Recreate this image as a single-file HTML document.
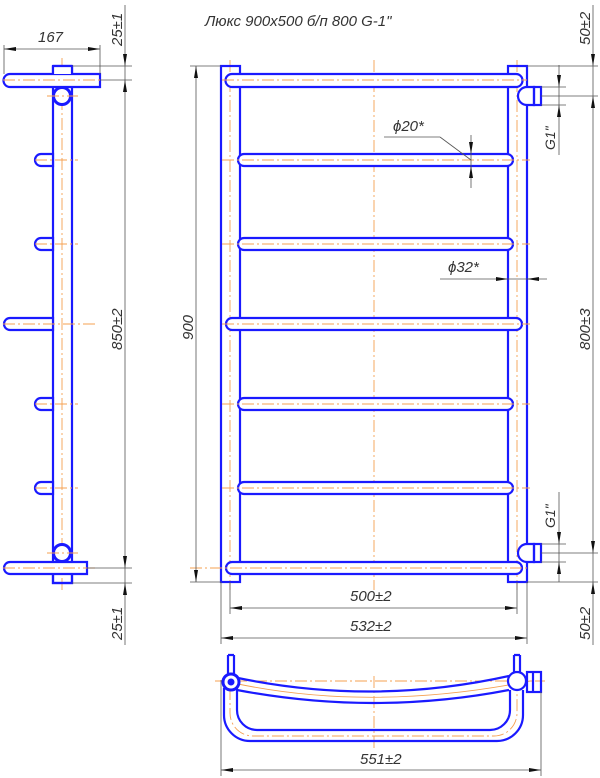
<!DOCTYPE html>
<html><head><meta charset="utf-8"><style>
html,body{margin:0;padding:0;background:#fff;width:600px;height:778px;overflow:hidden}
svg{display:block}
text{font-family:"Liberation Sans","DejaVu Sans",sans-serif;font-style:italic;fill:#333;font-size:15px}
.b{fill:none;stroke:#1a1aff;stroke-width:2.2}
.bw{fill:#fff;stroke:#1a1aff;stroke-width:2.2}
.c{stroke:#f5a050;stroke-width:0.9;stroke-dasharray:12,3,2,3;fill:none}
.d{stroke:#555;stroke-width:0.8;fill:none}
.a{fill:#111}
</style></head><body>
<svg width="600" height="778" viewBox="0 0 600 778">
<!-- ========== SIDE VIEW ========== -->
<line class="c" x1="62" y1="58" x2="62" y2="592"/>
<rect class="b" x="53" y="66" width="19" height="517"/>
<!-- top bar -->
<path class="bw" d="M10 74 H100 V87 H10 A6.5 6.5 0 0 1 10 74 Z"/>
<rect class="bw" x="53" y="66" width="19" height="8" style="stroke:none"/>
<path class="b" d="M53 66 V74 M72 66 V74 M53 66 H72"/>
<line class="c" x1="3" y1="80" x2="100" y2="80"/>
<circle cx="62" cy="96" r="8.5" fill="#fff" stroke="#1a1aff" stroke-width="3"/>
<line class="c" x1="47" y1="96" x2="78" y2="96"/>
<!-- stubs -->
<g>
<path class="bw" d="M53 154 H41 A6 6 0 0 0 41 166 H53 Z"/>
<path class="bw" d="M53 238 H41 A6 6 0 0 0 41 250 H53 Z"/>
<path class="bw" d="M53 318 H10 A6 6 0 0 0 10 330 H53 Z"/>
<path class="bw" d="M53 398 H41 A6 6 0 0 0 41 410 H53 Z"/>
<path class="bw" d="M53 482 H41 A6 6 0 0 0 41 494 H53 Z"/>
</g>
<line class="c" x1="35" y1="160" x2="78" y2="160"/>
<line class="c" x1="35" y1="244" x2="78" y2="244"/>
<line class="c" x1="3" y1="324" x2="96" y2="324"/>
<line class="c" x1="35" y1="404" x2="78" y2="404"/>
<line class="c" x1="35" y1="488" x2="78" y2="488"/>
<!-- bottom -->
<path class="bw" d="M10 562 H87 V574 H10 A6 6 0 0 1 10 562 Z"/>
<path class="b" d="M53 574 V583 H72 V574"/>
<line class="c" x1="3" y1="568" x2="96" y2="568"/>
<circle cx="62" cy="553" r="8.5" fill="#fff" stroke="#1a1aff" stroke-width="3"/>
<line class="c" x1="47" y1="553" x2="78" y2="553"/>
<!-- side dims -->
<line class="d" x1="4" y1="45" x2="4" y2="74"/>
<line class="d" x1="100" y1="45" x2="100" y2="74"/>
<line class="d" x1="4" y1="49" x2="100" y2="49"/>
<polygon class="a" points="4,49 16,47 16,51"/><polygon class="a" points="100,49 88,47 88,51"/>
<text x="38" y="42">167</text>
<line class="d" x1="72" y1="66" x2="132" y2="66"/>
<line class="d" x1="100" y1="80" x2="132" y2="80"/>
<line class="d" x1="125" y1="5" x2="125" y2="583"/>
<polygon class="a" points="125,66 123,54 127,54"/><polygon class="a" points="125,80 123,92 127,92"/>
<text transform="translate(122,46) rotate(-90)">25±1</text>
<text transform="translate(122,350) rotate(-90)">850±2</text>
<line class="d" x1="87" y1="568" x2="132" y2="568"/>
<line class="d" x1="72" y1="583" x2="132" y2="583"/>
<line class="d" x1="125" y1="583" x2="125" y2="645"/>
<polygon class="a" points="125,568 123,556 127,556"/><polygon class="a" points="125,583 123,595 127,595"/>
<text transform="translate(122,640) rotate(-90)">25±1</text>

<!-- ========== FRONT VIEW ========== -->
<text x="205" y="26">Люкс 900х500 б/п 800 G-1"</text>
<line class="c" x1="230" y1="60" x2="230" y2="590"/>
<line class="c" x1="517" y1="60" x2="517" y2="590"/>
<line class="c" x1="374" y1="60" x2="374" y2="590"/>
<rect class="b" x="221" y="66" width="19" height="516"/>
<rect class="b" x="508" y="66" width="19" height="516"/>
<!-- bars -->
<path class="bw" d="M232 74 H516 A6.5 6.5 0 0 1 516 87 H232 A6.5 6.5 0 0 1 232 74 Z"/>
<path class="bw" d="M244 154 H507 A6 6 0 0 1 507 166 H244 A6 6 0 0 1 244 154 Z"/>
<path class="bw" d="M244 238 H507 A6 6 0 0 1 507 250 H244 A6 6 0 0 1 244 238 Z"/>
<path class="bw" d="M232 318 H516 A6 6 0 0 1 516 330 H232 A6 6 0 0 1 232 318 Z"/>
<path class="bw" d="M244 398 H507 A6 6 0 0 1 507 410 H244 A6 6 0 0 1 244 398 Z"/>
<path class="bw" d="M244 482 H507 A6 6 0 0 1 507 494 H244 A6 6 0 0 1 244 482 Z"/>
<path class="bw" d="M232 562 H516 A6 6 0 0 1 516 574 H232 A6 6 0 0 1 232 562 Z"/>
<line class="c" x1="222" y1="80" x2="527" y2="80"/>
<line class="c" x1="222" y1="160" x2="530" y2="160"/>
<line class="c" x1="222" y1="244" x2="530" y2="244"/>
<line class="c" x1="222" y1="324" x2="530" y2="324"/>
<line class="c" x1="222" y1="404" x2="530" y2="404"/>
<line class="c" x1="222" y1="488" x2="530" y2="488"/>
<line class="c" x1="190" y1="568" x2="530" y2="568"/>
<!-- connectors -->
<path class="bw" d="M534 87 H527 A9 9 0 0 0 527 105 H534 Z"/>
<rect class="b" x="534" y="87" width="7" height="18"/>
<path class="bw" d="M534 544 H527 A9 9 0 0 0 527 562 H534 Z"/>
<rect class="b" x="534" y="544" width="7" height="18"/>
<!-- front dims -->
<line class="d" x1="190" y1="66" x2="221" y2="66"/>
<line class="d" x1="190" y1="582" x2="221" y2="582"/>
<line class="d" x1="196" y1="66" x2="196" y2="582"/>
<polygon class="a" points="196,66 194,78 198,78"/><polygon class="a" points="196,582 194,570 198,570"/>
<text transform="translate(193,340) rotate(-90)">900</text>
<!-- right -->
<line class="d" x1="527" y1="66" x2="598" y2="66"/>
<line class="d" x1="541" y1="96" x2="598" y2="96"/>
<line class="d" x1="593" y1="5" x2="593" y2="582"/>
<polygon class="a" points="593,66 591,54 595,54"/><polygon class="a" points="593,96 591,108 595,108"/>
<text transform="translate(590,45) rotate(-90)">50±2</text>
<text transform="translate(590,350) rotate(-90)">800±3</text>
<line class="d" x1="541" y1="87" x2="566" y2="87"/>
<line class="d" x1="541" y1="105" x2="566" y2="105"/>
<line class="d" x1="559" y1="65" x2="559" y2="155"/>
<polygon class="a" points="559,87 557,75 561,75"/><polygon class="a" points="559,105 557,117 561,117"/>
<text transform="translate(555,150) rotate(-90)" style="font-size:14px">G1"</text>
<line class="d" x1="541" y1="544" x2="566" y2="544"/>
<line class="d" x1="541" y1="562" x2="566" y2="562"/>
<line class="d" x1="559" y1="492" x2="559" y2="582"/>
<polygon class="a" points="559,544 557,532 561,532"/><polygon class="a" points="559,562 557,574 561,574"/>
<text transform="translate(555,528) rotate(-90)" style="font-size:14px">G1"</text>
<line class="d" x1="527" y1="582" x2="598" y2="582"/>
<line class="d" x1="541" y1="553" x2="598" y2="553"/>
<line class="d" x1="593" y1="582" x2="593" y2="645"/>
<polygon class="a" points="593,553 591,541 595,541"/><polygon class="a" points="593,582 591,594 595,594"/>
<text transform="translate(590,640) rotate(-90)">50±2</text>
<!-- phi20 -->
<line class="d" x1="384" y1="137" x2="440" y2="137"/>
<line class="d" x1="440" y1="137" x2="471" y2="160"/>
<line class="d" x1="471" y1="135" x2="471" y2="188"/>
<polygon class="a" points="471,154 469,142 473,142"/><polygon class="a" points="471,166 469,178 473,178"/>
<text x="393" y="131">ϕ20*</text>
<!-- phi32 -->
<line class="d" x1="440" y1="279" x2="547" y2="279"/>
<polygon class="a" points="508,279 496,277 496,281"/><polygon class="a" points="527,279 539,277 539,281"/>
<text x="448" y="272">ϕ32*</text>
<!-- bottom dims -->
<line class="d" x1="230" y1="582" x2="230" y2="614"/>
<line class="d" x1="517" y1="582" x2="517" y2="614"/>
<line class="d" x1="230" y1="608" x2="517" y2="608"/>
<polygon class="a" points="230,608 242,606 242,610"/><polygon class="a" points="517,608 505,606 505,610"/>
<text x="350" y="601">500±2</text>
<line class="d" x1="221" y1="582" x2="221" y2="644"/>
<line class="d" x1="527" y1="582" x2="527" y2="644"/>
<line class="d" x1="221" y1="638" x2="527" y2="638"/>
<polygon class="a" points="221,638 233,636 233,640"/><polygon class="a" points="527,638 515,636 515,640"/>
<text x="350" y="631">532±2</text>

<!-- ========== TOP VIEW ========== -->
<line class="c" x1="374" y1="676" x2="374" y2="750"/>
<line class="c" x1="215" y1="681" x2="545" y2="681"/>
<path class="b" d="M228 655 V675 M234 655 V675 M228 655 H234"/>
<path class="b" d="M514 655 V675 M520 655 V675 M514 655 H520"/>
<path class="b" d="M238 678 Q374 706 509 676"/>
<path class="b" d="M237 690 Q374 716 509 690"/>
<path class="c" d="M238 684 Q374 712 530 681" style="stroke-dasharray:none"/>
<path class="b" d="M224 688 V715 A26 26 0 0 0 250 741 H497 A26 26 0 0 0 523 715 V690"/>
<path class="b" d="M237 688 V710 A20 20 0 0 0 257 730 H490 A20 20 0 0 0 510 710 V690"/>
<path class="c" d="M230 688 V713 A23 23 0 0 0 253 736 H494 A23 23 0 0 0 517 713 V690"/>
<circle cx="231" cy="682" r="8" fill="#fff" stroke="#1a1aff" stroke-width="3"/>
<circle cx="231" cy="682" r="3.5" fill="#1a1aff"/>
<circle cx="517" cy="681" r="9" class="bw"/>
<rect class="b" x="527" y="672" width="14" height="20"/>
<line class="b" x1="533" y1="672" x2="533" y2="692"/>
<line class="d" x1="221" y1="680" x2="221" y2="776"/>
<line class="d" x1="541" y1="692" x2="541" y2="776"/>
<line class="d" x1="221" y1="770" x2="541" y2="770"/>
<polygon class="a" points="221,770 233,768 233,772"/><polygon class="a" points="541,770 529,768 529,772"/>
<text x="360" y="764">551±2</text>
</svg>
</body></html>
